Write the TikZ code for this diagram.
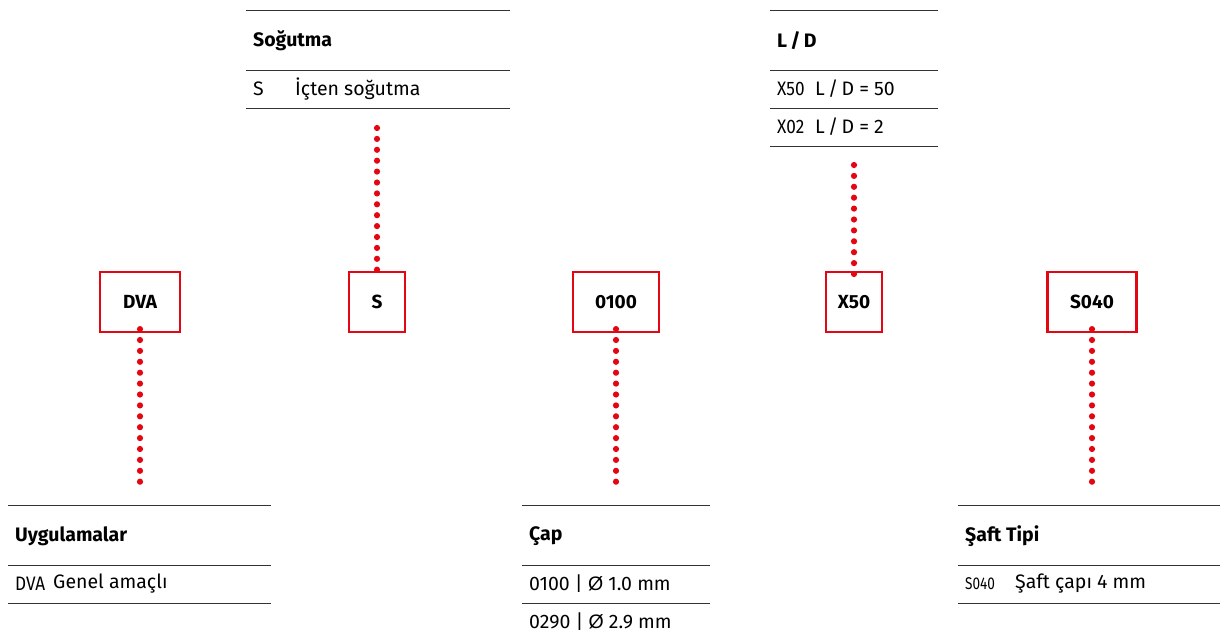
\documentclass[tikz,border=0pt]{standalone}
\usepackage{fontspec}
\usepackage{graphicx}
\setmainfont{Fira Sans}
\newfontfamily\ofont{Liberation Sans}
\newcommand{\narrowcode}[1]{\scalebox{0.88}[1]{#1}}
\definecolor{dred}{HTML}{E30613}
\definecolor{rule}{HTML}{333333}
\begin{document}
\begin{tikzpicture}[x=1pt,y=-1pt,
  codebox/.style={draw=dred,line width=2.2pt,minimum width=#1,minimum height=60pt,inner sep=0pt,font=\fontsize{19}{22}\selectfont\bfseries},
  codebox/.default=80pt,
  hrule/.style={draw=rule,line width=1pt},
  head/.style={anchor=west,inner sep=0pt,font=\fontsize{19.5}{23}\selectfont\bfseries},
  cell/.style={anchor=west,inner sep=0pt,font=\fontsize{19.5}{23}\selectfont},
  small/.style={anchor=west,inner sep=0pt,font=\fontsize{17}{20}\selectfont},
  dots/.style={draw=dred,line width=6.2pt,line cap=round,dash pattern=on 0pt off 10.9pt}]
\useasboundingbox (0,0) rectangle (1220,637);

% code boxes
\node[codebox=80pt] (dva) at (140,302) {DVA};
\node[codebox=56pt] (s) at (377,302) {S};
\node[codebox=86pt] (d) at (616,302) {0100};
\node[codebox=56pt] (x) at (854,302) {X50};
\node[codebox=89pt] (sh) at (1092,302) {S040};

% Soğutma table
\draw[hrule] (246,10) -- (510,10);
\draw[hrule] (246,70) -- (510,70);
\draw[hrule] (246,108) -- (510,108);
\node[head] (th1) at (253,41) {Soğutma};
\node[cell] (c1a) at (253,89) {S};
\node[cell] (c1b) at (295,89) {İçten soğutma};

% L/D table
\draw[hrule] (770,10) -- (938,10);
\draw[hrule] (770,70) -- (938,70);
\draw[hrule] (770,108) -- (938,108);
\draw[hrule] (770,146) -- (938,146);
\node[head] (th2) at (777,41) {L\,/\,D};
\node[cell] (c2a) at (777,89) {\narrowcode{X50}};
\node[cell] (c2b) at (815,89) {L\,/\,D = 50};
\node[cell] (c2c) at (777,127) {\narrowcode{X02}};
\node[cell] (c2d) at (815,127) {L\,/\,D = 2};

% Uygulamalar table
\draw[hrule] (8,505) -- (271,505);
\draw[hrule] (8,565) -- (271,565);
\draw[hrule] (8,603) -- (271,603);
\node[head] (th3) at (15,536) {Uygulamalar};
\node[cell] (c3a) at (15,584) {\narrowcode{DVA}};
\node[cell] (c3b) at (53,584) {Genel amaçlı};

% Çap table
\draw[hrule] (522,505) -- (710,505);
\draw[hrule] (522,565) -- (710,565);
\draw[hrule] (522,603) -- (710,603);
\node[head] (th4) at (529,536) {Çap};
\node[cell] (c4a) at (529,584) {0100 | {\ofont Ø} 1.0 mm};
\node[cell] (c4b) at (529,622) {0290 | {\ofont Ø} 2.9 mm};

% Şaft Tipi table
\draw[hrule] (958,505) -- (1220,505);
\draw[hrule] (958,565) -- (1220,565);
\draw[hrule] (958,603) -- (1220,603);
\node[head] (th5) at (965,536) {Şaft Tipi};
\node[small] (c5a) at (965,584) {\scalebox{0.8}[1]{S040}};
\node[cell] (c5b) at (1015,584) {Şaft çapı 4 mm};

% dot connectors
\coordinate (dvaend) at (140,484);
\coordinate (sstart) at (377,128);
\coordinate (xstart) at (854,165);
\coordinate (dend) at (616,484);
\coordinate (shend) at (1092,484);
\path[dots] ([yshift=4pt]dva.south) -- (dvaend);
\path[dots] (sstart) -- ([yshift=-4pt]s.north);
\path[dots] (xstart) -- ([yshift=-4pt]x.north);
\path[dots] ([yshift=4pt]d.south) -- (dend);
\path[dots] ([yshift=4pt]sh.south) -- (shend);
\end{tikzpicture}
\end{document}
